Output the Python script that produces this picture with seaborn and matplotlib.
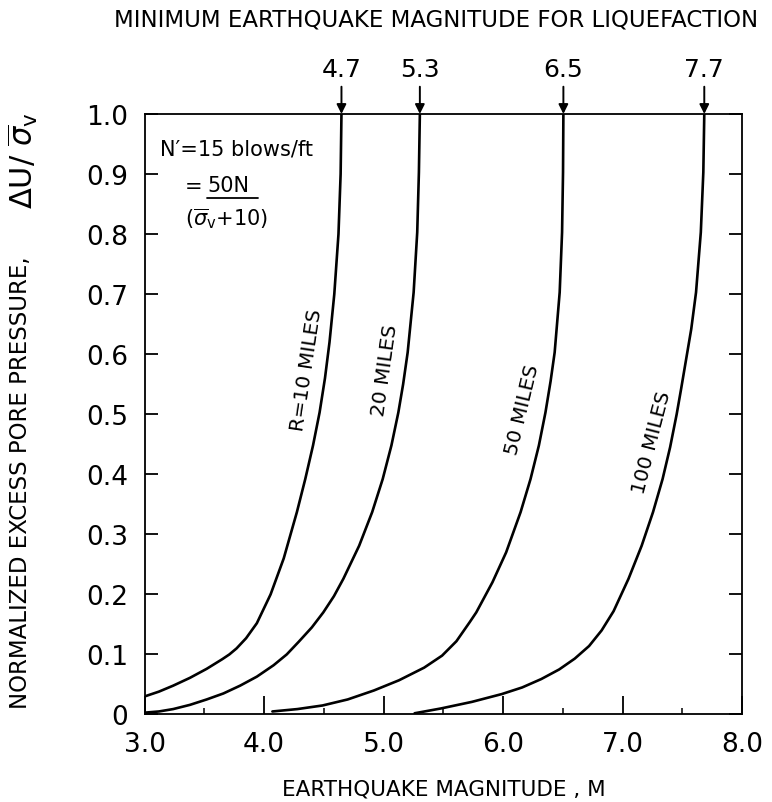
import matplotlib
matplotlib.use("Agg")
import matplotlib.pyplot as plt
import numpy as np
import pandas as pd
import seaborn as sns

# ---------------- data ----------------
r10_m = [3.00, 3.12, 3.24, 3.38, 3.52, 3.65, 3.71, 3.77, 3.85, 3.94, 4.055, 4.165, 4.275,
         4.345, 4.41, 4.465, 4.51, 4.548, 4.588, 4.623, 4.641, 4.648]
r10_v = [0.030, 0.038, 0.048, 0.061, 0.076, 0.092, 0.100, 0.110, 0.127, 0.152, 0.200, 0.260, 0.337,
         0.392, 0.448, 0.503, 0.560, 0.620, 0.700, 0.800, 0.900, 1.000]

r20_m = [3.00, 3.12, 3.24, 3.38, 3.52, 3.66, 3.80, 3.94, 4.08, 4.19, 4.29, 4.40, 4.496,
         4.585, 4.664, 4.796, 4.905, 4.993, 5.066, 5.124, 5.164, 5.202, 5.252, 5.282, 5.296, 5.304]
r20_v = [0.003, 0.005, 0.009, 0.016, 0.025, 0.035, 0.048, 0.063, 0.082, 0.100, 0.121, 0.145, 0.170,
         0.197, 0.226, 0.281, 0.337, 0.392, 0.448, 0.503, 0.550, 0.603, 0.703, 0.803, 0.903, 1.000]

r50_m = [4.07, 4.28, 4.49, 4.70, 4.92, 5.13, 5.34, 5.49, 5.61, 5.722, 5.776, 5.911, 6.026,
         6.147, 6.23, 6.30, 6.355, 6.398, 6.432, 6.474, 6.494, 6.502, 6.505]
r50_v = [0.005, 0.009, 0.015, 0.025, 0.040, 0.057, 0.078, 0.098, 0.122, 0.154, 0.170, 0.220, 0.270,
         0.337, 0.392, 0.448, 0.503, 0.555, 0.603, 0.703, 0.803, 0.903, 1.000]

r100_m = [5.26, 5.48, 5.74, 5.99, 6.16, 6.32, 6.47, 6.60, 6.72, 6.825, 6.925, 7.05, 7.16,
          7.255, 7.335, 7.398, 7.453, 7.49, 7.575, 7.615, 7.655, 7.676, 7.684]
r100_v = [0.002, 0.010, 0.021, 0.034, 0.045, 0.059, 0.075, 0.093, 0.114, 0.140, 0.172, 0.226, 0.281,
          0.337, 0.392, 0.445, 0.500, 0.542, 0.642, 0.703, 0.803, 0.903, 1.000]

curve_names = ["R=10 MILES", "20 MILES", "50 MILES", "100 MILES"]
label_m = [4.354, 5.016, 6.164, 7.246]
label_v = [0.575, 0.574, 0.509, 0.454]
label_rot = [81.5, 82.0, 76.5, 75.5]

top_labels = ["4.7", "5.3", "6.5", "7.7"]

x_ticks = [3.0, 4.0, 5.0, 6.0, 7.0, 8.0]
x_ticklabels = ["3.0", "4.0", "5.0", "6.0", "7.0", "8.0"]
x_minor = [3.5, 4.5, 5.5, 6.5, 7.5]
y_ticks = [0.0, 0.1, 0.2, 0.3, 0.4, 0.5, 0.6, 0.7, 0.8, 0.9, 1.0]
y_ticklabels = ["0", "0.1", "0.2", "0.3", "0.4", "0.5", "0.6", "0.7", "0.8", "0.9", "1.0"]

# ---------------- build table ----------------
frames = []
for name, m, v in zip(curve_names, [r10_m, r20_m, r50_m, r100_m], [r10_v, r20_v, r50_v, r100_v]):
    frames.append(pd.DataFrame({"M": m, "U": v, "curve": name}))
df = pd.concat(frames, ignore_index=True)

# ---------------- style ----------------
sns.set_theme(style="ticks")
plt.rcParams["font.family"] = ["DejaVu Sans"]
plt.rcParams["mathtext.fontset"] = "dejavusans"

fig = plt.figure(figsize=(7.72, 8.03), dpi=100)
fig.patch.set_facecolor("white")
ax = fig.add_axes([0.1872, 0.1090, 0.7740, 0.7478])
ax.set_facecolor("white")

sns.lineplot(data=df, x="M", y="U", hue="curve", units="curve", estimator=None,
             sort=False, palette=["black"] * 4, linewidth=1.9, legend=False, ax=ax)
for ln in ax.lines:
    ln.set_solid_joinstyle("round")
    ln.set_solid_capstyle("round")

ax.set_xlim(3.0, 8.0)
ax.set_ylim(0.0, 1.0)
ax.set_xlabel("")
ax.set_ylabel("")

for s in ax.spines.values():
    s.set_visible(True)
    s.set_linewidth(1.3)
    s.set_color("black")

ax.set_xticks(x_ticks)
ax.set_xticklabels(x_ticklabels)
ax.set_xticks(x_minor, minor=True)
ax.set_yticks(y_ticks)
ax.set_yticklabels(y_ticklabels)

ax.tick_params(axis="x", which="major", direction="in", length=13, width=1.3,
               pad=12, labelsize=19, colors="black", top=False)
ax.tick_params(axis="x", which="minor", direction="in", length=4, width=1.3, top=False)
ax.tick_params(axis="y", which="major", direction="in", length=9.5, width=1.3,
               pad=12, labelsize=19, colors="black", right=True, left=True)
ax.tick_params(axis="y", which="minor", left=False, right=False)

# curve labels
for name, m, v, rot in zip(curve_names, label_m, label_v, label_rot):
    ax.text(m, v, name, rotation=rot, rotation_mode="anchor", ha="center", va="center",
            fontsize=14.5, fontstyle="normal", color="black")

# arrows at the top: minimum magnitude for liquefaction
for lab, mcurve in zip(top_labels, [r10_m, r20_m, r50_m, r100_m]):
    xm = mcurve[-1]
    ax.annotate(lab, xy=(xm, 1.0), xycoords="data",
                xytext=(0, 24), textcoords="offset points",
                ha="center", va="bottom", fontsize=18, color="black",
                annotation_clip=False,
                arrowprops=dict(arrowstyle="-|>", color="black", lw=1.4,
                                shrinkA=2, shrinkB=0, mutation_scale=14))

# annotation box
ax.text(0.026, 0.942, "N\u2032=15 blows/ft", transform=ax.transAxes,
        fontsize=15, ha="left", va="center", color="black")
ax.text(0.068, 0.880, "=", transform=ax.transAxes,
        fontsize=15, ha="left", va="center", color="black")
ax.text(0.105, 0.882, "50N", transform=ax.transAxes,
        fontsize=15, ha="left", va="center", color="black")
ax.plot([0.105, 0.190], [0.860, 0.860], transform=ax.transAxes, color="black", lw=1.3)
ax.text(0.068, 0.828, r"($\overline{\sigma}_{\mathregular{v}}$+10)", transform=ax.transAxes,
        fontsize=15, ha="left", va="center", color="black")

# titles
fig.text(0.565, 0.975, "MINIMUM EARTHQUAKE MAGNITUDE FOR LIQUEFACTION",
         ha="center", va="center", fontsize=16.5, color="black")
fig.text(0.575, 0.017, "EARTHQUAKE MAGNITUDE , M",
         ha="center", va="center", fontsize=15.5, color="black")
fig.text(0.026, 1 - 483 / 803, "NORMALIZED EXCESS PORE PRESSURE,",
         rotation=90, ha="center", va="center", fontsize=16.5, color="black")
fig.text(0.030, 1 - 161 / 803, r"$\Delta$U/ $\overline{\sigma}_{\mathregular{v}}$",
         rotation=90, ha="center", va="center", fontsize=22, color="black")

fig.savefig("out.png", dpi=100, facecolor="white")
